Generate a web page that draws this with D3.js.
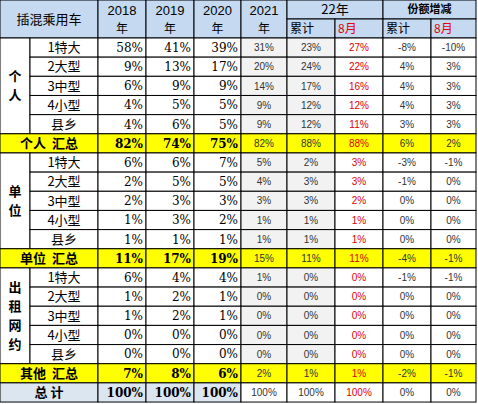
<!DOCTYPE html>
<html><head><meta charset="utf-8">
<script src="https://cdn.jsdelivr.net/npm/d3@7"></script>
<style>body{margin:0;background:#fff} text{white-space:pre}</style></head>
<body><svg id="c" width="478" height="404"></svg>
<script>
const groups = ["个人", "单位", "出租网约"];
const types = ["1特大", "2大型", "3中型", "4小型", "县乡"];
const summaryLabels = ["个人  汇总", "单位  汇总", "其他  汇总"];
const years = ["2018", "2019", "2020", "2021"];
const personal = [
  ["58%","41%","39%","31%","23%","27%","-8%","-10%"],
  ["9%","13%","17%","20%","24%","22%","4%","3%"],
  ["6%","9%","9%","14%","17%","16%","4%","3%"],
  ["4%","5%","5%","9%","12%","12%","4%","3%"],
  ["4%","6%","5%","9%","12%","11%","3%","3%"]
];
const unit = [
  ["6%","6%","7%","5%","2%","3%","-3%","-1%"],
  ["2%","5%","5%","4%","3%","3%","-1%","0%"],
  ["2%","3%","3%","3%","3%","2%","0%","0%"],
  ["1%","3%","2%","1%","1%","1%","0%","0%"],
  ["1%","1%","1%","1%","1%","1%","0%","0%"]
];
const taxi = [
  ["6%","4%","4%","1%","0%","0%","-1%","-1%"],
  ["1%","2%","1%","0%","0%","0%","0%","0%"],
  ["1%","2%","1%","0%","0%","0%","0%","0%"],
  ["0%","0%","0%","0%","0%","0%","0%","0%"],
  ["0%","0%","0%","0%","0%","0%","0%","0%"]
];
const summaries = [
  ["82%","74%","75%","82%","88%","88%","6%","2%"],
  ["11%","17%","19%","15%","11%","11%","-4%","-1%"],
  ["7%","8%","6%","2%","1%","1%","-2%","-1%"]
];
const totalRow = ["100%","100%","100%","100%","100%","100%","0%","0%"];

const svg = d3.select("#c");
const font = "'Noto Sans CJK SC', sans-serif";
const colEdges = [0, 30, 98, 146, 194, 241, 287, 335, 383, 431, 476];
const headH = 38, rowH = 19.16;
const x = i => colEdges[i], w = i => colEdges[i + 1] - colEdges[i];
const rowY = r => headH + r * rowH;

function cell(x0, y0, cw, ch, fill, txt, opt = {}) {
  svg.append("rect").attr("x", x0).attr("y", y0).attr("width", cw).attr("height", ch)
    .attr("fill", fill).attr("stroke", "#000").attr("stroke-width", 1);
  if (txt == null) return;
  const anchor = opt.anchor || "middle";
  const tx = anchor === "end" ? x0 + cw - 3 : anchor === "start" ? x0 + 3 : x0 + cw / 2;
  svg.append("text").attr("x", tx).attr("y", y0 + ch / 2).attr("dy", "0.36em")
    .attr("text-anchor", anchor).attr("font-family", opt.family || font)
    .attr("font-size", opt.size || 12).attr("font-weight", opt.bold ? "bold" : "normal")
    .attr("fill", opt.color || "#000").text(txt);
}

// header
const hb = "#c5d9f1";
cell(0, 0, x(2), headH, hb, "插混乘用车", {size: 13});
years.forEach((y, i) => {
  cell(x(2 + i), 0, w(2 + i), headH, hb, null);
  svg.append("text").attr("x", x(2 + i) + w(2 + i) / 2).attr("y", 10).attr("dy", "0.36em")
    .attr("text-anchor", "middle").attr("font-family", "Liberation Sans, sans-serif").attr("font-size", 13).text(y);
  svg.append("text").attr("x", x(2 + i) + w(2 + i) / 2).attr("y", 29).attr("dy", "0.36em")
    .attr("text-anchor", "middle").attr("font-family", font).attr("font-size", 12).text("年");
});
cell(x(6), 0, x(8) - x(6), 19, hb, "22年", {size: 13});
cell(x(8), 0, x(10) - x(8), 19, hb, "份额增减", {size: 11, bold: true});
["累计", "8月", "累计", "8月"].forEach((t, i) =>
  cell(x(6 + i), 19, w(6 + i), 19, hb, t, {size: 12, anchor: "start", color: i % 2 ? "#e00000" : "#000"}));

// body
const blocks = [personal, unit, taxi];
let r = 0;
function dataCells(vals, rr, isSum, bg) {
  vals.forEach((v, j) => {
    const c = 2 + j;
    let fill = bg;
    if (!isSum && (j === 3 || j === 4)) fill = "#f2f2f2";
    const small = j >= 3;
    cell(x(c), rowY(rr), w(c), rowH, fill, v, {
      anchor: j < 3 ? "end" : "middle",
      size: small ? 10 : 12,
      bold: isSum && j < 3,
      family: j < 3 ? "'DejaVu Serif', serif" : "Liberation Sans, sans-serif",
      color: j === 5 ? "#e00000" : (small ? "#333" : "#000")
    });
  });
}
blocks.forEach((b, gi) => {
  cell(0, rowY(r), 30, rowH * 5, "#fff", null);
  const chars = Array.from(groups[gi]);
  const cy = rowY(r) + rowH * 2.5, lh = 19;
  chars.forEach((ch, k) => {
    svg.append("text").attr("x", 15).attr("y", cy + (k - (chars.length - 1) / 2) * lh).attr("dy", "0.36em")
      .attr("text-anchor", "middle").attr("font-family", font).attr("font-size", 13).attr("font-weight", "bold").text(ch);
  });
  b.forEach((vals, k) => {
    cell(x(1), rowY(r), w(1), rowH, "#fff", types[k], {size: 13});
    dataCells(vals, r, false, "#fff");
    r++;
  });
  cell(0, rowY(r), x(2), rowH, "#ffff00", summaryLabels[gi], {size: 13, bold: true});
  dataCells(summaries[gi], r, true, "#ffff00");
  r++;
});
cell(0, rowY(r), x(2), rowH, "#dce6f1", "总 计", {size: 13, bold: true});
totalRow.forEach((v, j) => {
  const c = 2 + j;
  cell(x(c), rowY(r), w(c), rowH, j < 3 ? "#dce6f1" : "#fff", v, {
    anchor: j < 3 ? "end" : "middle", size: j < 3 ? 12 : 10, bold: j < 3,
    family: j < 3 ? "'DejaVu Serif', serif" : "Liberation Sans, sans-serif",
    color: j === 5 ? "#e00000" : (j < 3 ? "#000" : "#333")
  });
});
</script></body></html>
